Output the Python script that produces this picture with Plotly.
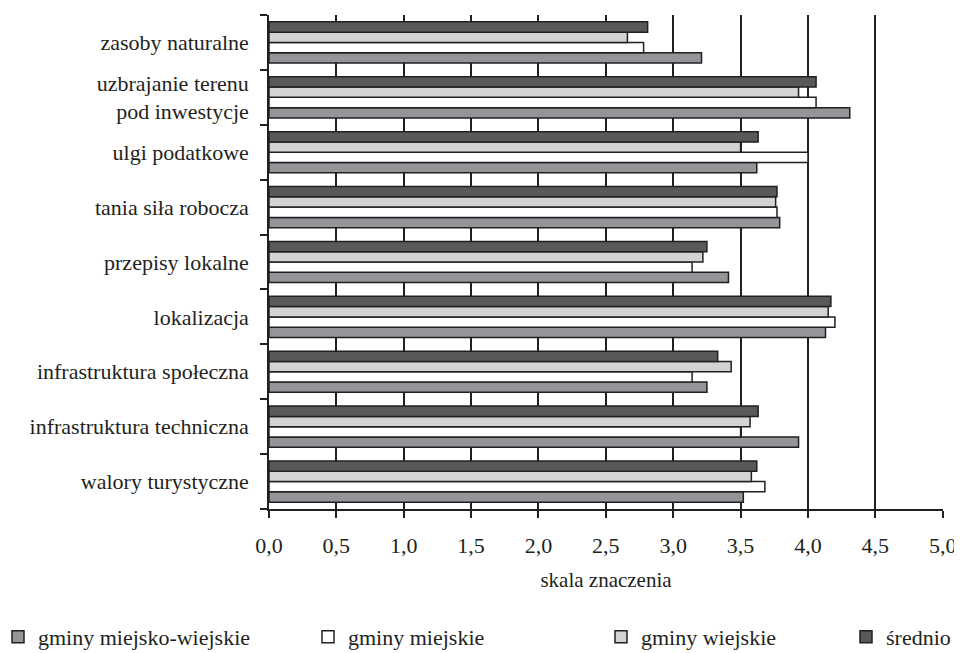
import plotly.graph_objects as go

categories = [
    "zasoby naturalne",
    "uzbrajanie terenu<br>pod inwestycje",
    "ulgi podatkowe",
    "tania siła robocza",
    "przepisy lokalne",
    "lokalizacja",
    "infrastruktura społeczna",
    "infrastruktura techniczna",
    "walory turystyczne",
]
miejsko_wiejskie = [3.21, 4.31, 3.62, 3.79, 3.41, 4.13, 3.25, 3.93, 3.52]
miejskie = [2.78, 4.06, 4.00, 3.77, 3.14, 4.20, 3.14, 3.50, 3.68]
wiejskie = [2.66, 3.93, 3.50, 3.76, 3.22, 4.15, 3.43, 3.57, 3.58]
srednio = [2.81, 4.06, 3.63, 3.77, 3.25, 4.17, 3.33, 3.63, 3.62]

series_names = ["gminy miejsko-wiejskie", "gminy miejskie", "gminy wiejskie", "średnio"]
x_tick_vals = [0, 0.5, 1, 1.5, 2, 2.5, 3, 3.5, 4, 4.5, 5]

INK = "#231f20"
colors = ["#939598", "#ffffff", "#d1d3d4", "#58595b"]
series = [miejsko_wiejskie, miejskie, wiejskie, srednio]

# the page body adds an 8 px margin, so the figure is 8 px smaller and
# everything is placed 8 px up/left of where it appears in the window
W, H = 954, 645
L, R, T, B = 261, 19, 7, 144
PW, PH = W - L - R, H - T - B

legend_text_px = [30, 340, 633, 878]       # where each legend text starts (fig px)
legend_keys = ["legend", "legend2", "legend3", "legend4"]
SERIF = "Liberation Serif"
FS = 22

fig = go.Figure()
for name, vals, col, lk in zip(series_names, series, colors, legend_keys):
    fig.add_trace(go.Bar(
        y=categories, x=vals, orientation="h", name=name,
        marker=dict(color=col, line=dict(color=INK, width=1.5)),
        legend=lk,
    ))

layout_legends = {}
for lk, tx in zip(legend_keys, legend_text_px):
    layout_legends[lk] = dict(
        orientation="h", xref="paper", yref="paper",
        x=(tx - 40 - L) / PW, xanchor="left",
        y=(H - B - 629) / PH, yanchor="middle",
        font=dict(family=SERIF, size=FS, color=INK),
        itemwidth=30, bgcolor="rgba(0,0,0,0)", borderwidth=0,
    )

fig.update_layout(
    width=W, height=H,
    margin=dict(l=L, r=R, t=T, b=B, autoexpand=False),
    paper_bgcolor="white", plot_bgcolor="white",
    font=dict(family=SERIF, size=FS, color=INK),
    separators=", ",
    barmode="group", bargap=0.25, bargroupgap=0,
    showlegend=True,
    **layout_legends,
)
fig.update_xaxes(
    range=[0, 5.002], tickvals=x_tick_vals, tickformat=".1f",
    showgrid=True, gridcolor=INK, gridwidth=1.5,
    showline=True, linecolor=INK, linewidth=1.5,
    ticks="outside", ticklen=7, tickcolor=INK, tickwidth=1.5,
    zeroline=False, automargin=False,
    tickfont=dict(family=SERIF, size=FS, color=INK),
    ticklabelstandoff=9,
    title=dict(text="skala znaczenia", standoff=15,
               font=dict(family=SERIF, size=FS - 1, color=INK)),
)
fig.update_yaxes(
    categoryorder="array", categoryarray=categories[::-1],
    showgrid=False, zeroline=False, automargin=False,
    showline=True, linecolor=INK, linewidth=1.5,
    ticks="outside", ticklen=7, tickcolor=INK, tickwidth=1.5,
    tickson="boundaries",
    ticklabelstandoff=14,
    tickfont=dict(family=SERIF, size=FS, color=INK),
)

fig.write_html("out.html")
